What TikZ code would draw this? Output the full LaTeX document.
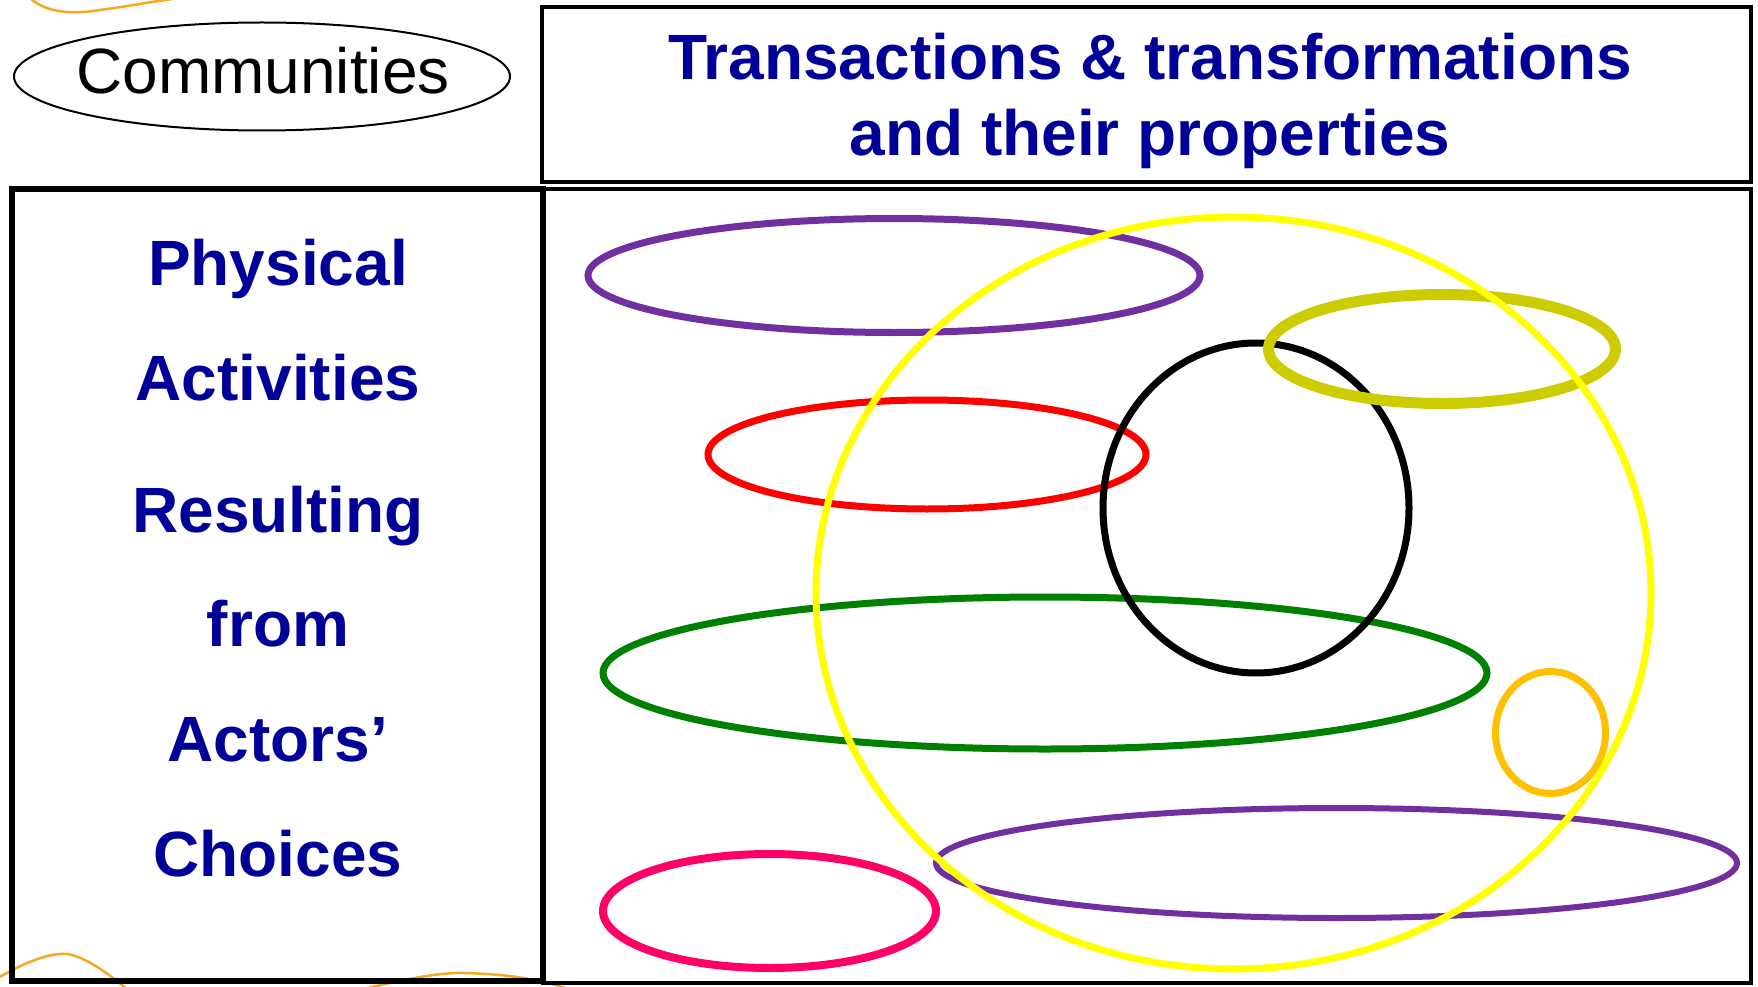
\documentclass[tikz,border=0pt]{standalone}
\usepackage{fontspec}
\setmainfont{Liberation Sans}
\definecolor{navytext}{HTML}{000099}
\definecolor{purpring}{HTML}{7030A0}
\definecolor{oliveRing}{HTML}{CCCC00}
\definecolor{greenring}{HTML}{008000}
\definecolor{orangering}{HTML}{FFC000}
\definecolor{pinkring}{HTML}{FF0066}
\definecolor{yellowring}{HTML}{FFFF00}
\definecolor{decoorange}{HTML}{F7A823}
\begin{document}
\begin{tikzpicture}[x=1pt,y=-1pt,
  bigtext/.style={font=\fontsize{64}{77}\selectfont, inner sep=0pt, anchor=base},
  boldblue/.style={bigtext, font=\fontsize{64}{77}\selectfont\bfseries, text=navytext},
  ring/.style={line width=#1},
  deco/.style={draw=decoorange, line width=2.5pt},
  frame/.style={draw=black, line width=#1}]
\useasboundingbox (0,0) rectangle (1758,987);
\fill[white] (0,0) rectangle (1758,987);
% decorative orange strokes
\draw[deco] (30,-2) .. controls (45,12) and (70,15) .. (100,10) .. controls (130,6) and (150,2) .. (172,-1);
\draw[deco] (-2,978) .. controls (25,962) and (55,950) .. (72,955) .. controls (90,960) and (110,975) .. (128,990);
\draw[deco] (360,990) .. controls (400,980) and (440,972) .. (465,973) .. controls (500,974) and (540,978) .. (570,990);
% frames
\draw[frame=3.5pt] (542,7) rectangle (1751,182);
\draw[frame=3.5pt] (543,189) rectangle (1751,983);
\draw[frame=6pt] (12,189) rectangle (543,981);
% communities
\draw[line width=2pt] (262,76.5) ellipse [x radius=248pt, y radius=54pt];
\node[bigtext] (comm) at (263,94) {Communities};
% title
\node[boldblue] (title1) at (1150,80) {Transactions \& transformations};
\node[boldblue] (title2) at (1150,156) {and their properties};
% left column
\node[boldblue] (l1) at (278,285) {Physical};
\node[boldblue] (l2) at (278,400) {Activities};
\node[boldblue] (l3) at (278,532) {Resulting};
\node[boldblue] (l4) at (278,646) {from};
\node[boldblue] (l5) at (278,761) {Actors’};
\node[boldblue] (l6) at (278,876) {Choices};
% rings
\draw[ring=7pt, draw=purpring] (894,275.5) ellipse [x radius=306pt, y radius=57pt];
\draw[ring=7pt, draw=red] (927,454.5) ellipse [x radius=219pt, y radius=54.5pt];
\draw[ring=7pt, draw=greenring] (1045,673) ellipse [x radius=442pt, y radius=76pt];
\draw[ring=7pt, draw=black] (1256,508) ellipse [x radius=153pt, y radius=165pt];
\draw[ring=11pt, draw=oliveRing] (1442,349) ellipse [x radius=173.5pt, y radius=54.5pt];
\draw[ring=7pt, draw=orangering] (1550.5,732.5) ellipse [x radius=55pt, y radius=61pt];
\draw[ring=8pt, draw=pinkring] (769.5,911) ellipse [x radius=166.5pt, y radius=57pt];
\draw[ring=6pt, draw=purpring] (1336.5,863) ellipse [x radius=400.5pt, y radius=55pt];
\draw[ring=7pt, draw=yellowring] (1233.5,593) ellipse [x radius=417.5pt, y radius=376pt];
\end{tikzpicture}
\end{document}
